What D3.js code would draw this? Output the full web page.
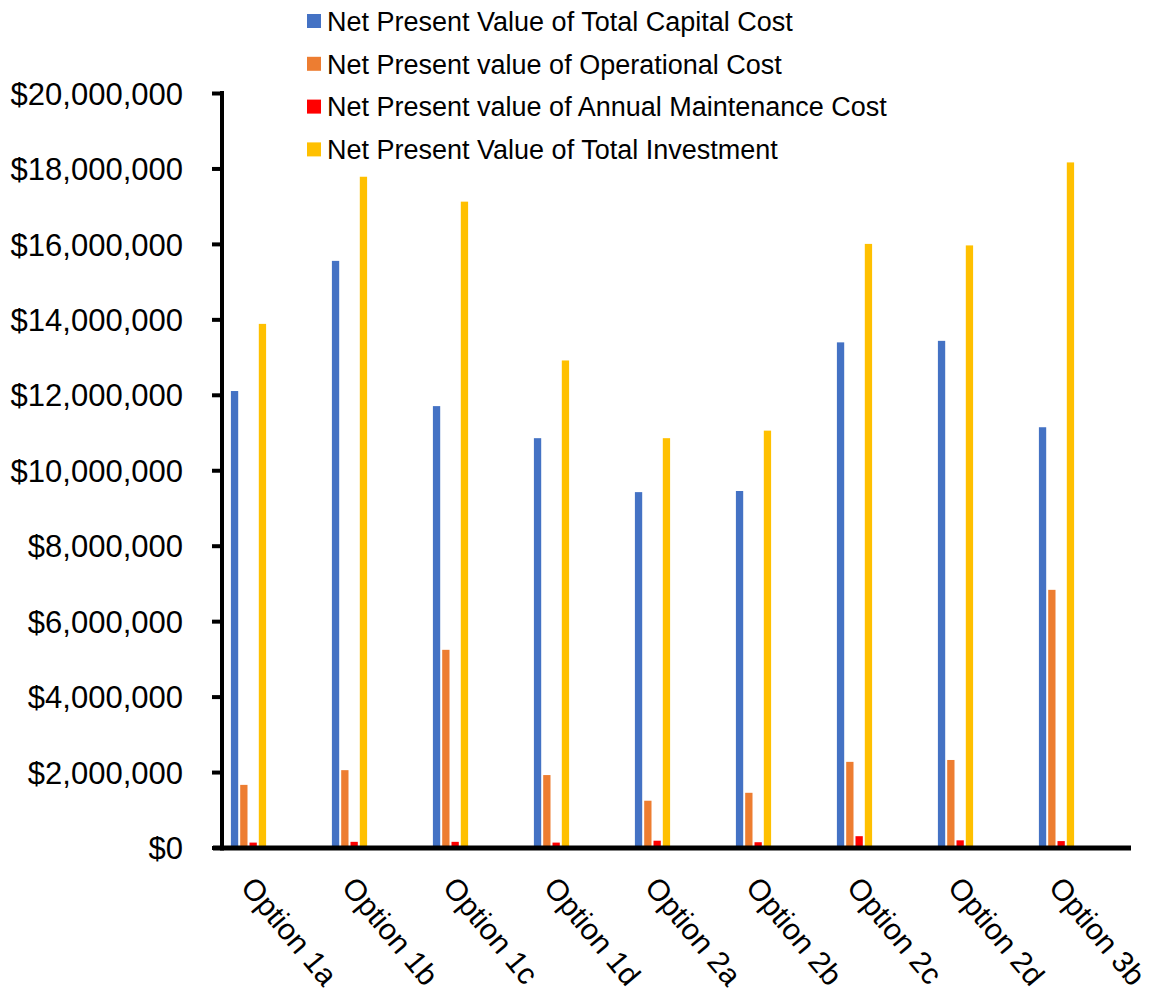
<!DOCTYPE html>
<html>
<head>
<meta charset="utf-8">
<script src="https://cdn.jsdelivr.net/npm/d3@7"></script>
<style>
  html, body { margin: 0; padding: 0; background: #fff; }
  svg { display: block; font-family: "Liberation Sans", Arial, sans-serif; }
</style>
</head>
<body>
<svg id="chart" width="1151" height="999"></svg>
<script>
const categories = ["Option 1a", "Option 1b", "Option 1c", "Option 1d", "Option 2a", "Option 2b", "Option 2c", "Option 2d", "Option 3b"];
const seriesNames = [
  "Net Present Value of Total Capital Cost",
  "Net Present value of Operational Cost",
  "Net Present value of Annual Maintenance Cost",
  "Net Present Value of Total Investment"
];
const seriesColors = ["#4472C4", "#ED7D31", "#FF0000", "#FFC000"];
const capitalCost     = [12100000, 15550000, 11700000, 10850000, 9420000, 9450000, 13390000, 13430000, 11140000];
const operationalCost = [1660000, 2050000, 5240000, 1920000, 1240000, 1450000, 2270000, 2320000, 6830000];
const maintenanceCost = [130000, 150000, 150000, 130000, 180000, 140000, 300000, 190000, 170000];
const totalInvestment = [13880000, 17780000, 17120000, 12910000, 10850000, 11050000, 16000000, 15960000, 18160000];
const seriesValues = [capitalCost, operationalCost, maintenanceCost, totalInvestment];
const yTicks = [0, 2000000, 4000000, 6000000, 8000000, 10000000, 12000000, 14000000, 16000000, 18000000, 20000000];

const svg = d3.select("#chart");

const y = d3.scaleLinear().domain([0, 20000000]).range([847.5, 93]);
const x0 = d3.scaleBand().domain(categories).range([198, 1107]);
const bw = x0.bandwidth();
const x1 = d3.scaleBand().domain(seriesNames).range([bw / 2 - 17.6, bw / 2 + 17.6]).paddingInner(0.215);

// bars
const groups = svg.append("g").selectAll("g")
  .data(categories)
  .join("g")
  .attr("transform", d => `translate(${x0(d)},0)`);

groups.selectAll("rect")
  .data((c, i) => seriesNames.map((s, k) => ({ s, k, v: seriesValues[k][i] })))
  .join("rect")
  .attr("x", d => x1(d.s))
  .attr("width", x1.bandwidth())
  .attr("y", d => y(d.v))
  .attr("height", d => y(0) - y(d.v))
  .attr("fill", d => seriesColors[d.k]);

// y axis
const yAxis = d3.axisLeft(y)
  .tickValues(yTicks)
  .tickSize(10)
  .tickPadding(29)
  .tickFormat(d => "$" + d3.format(",")(d));

const gy = svg.append("g")
  .attr("transform", "translate(222,0)")
  .call(yAxis);
gy.select(".domain").attr("stroke", "#000").attr("stroke-width", 4)
  .attr("d", `M0,${y(20000000) - 2}V${y(0) + 3}`);
gy.selectAll(".tick line").attr("stroke", "#000").attr("stroke-width", 4);
gy.selectAll(".tick text")
  .attr("fill", "#000")
  .style("font-size", "31px")
  .attr("dy", "0.36em");

// x axis
const xAxis = d3.axisBottom(x0).tickSize(0).tickFormat("");
const gx = svg.append("g")
  .attr("transform", `translate(0,${y(0)})`)
  .call(xAxis);
gx.select(".domain").attr("stroke", "#000").attr("stroke-width", 5)
  .attr("d", "M213,0.5H1131");

// category labels
svg.append("g").selectAll("text")
  .data(categories)
  .join("text")
  .attr("transform", d => `translate(${x0(d) + bw / 2 - 9},888) rotate(50)`)
  .attr("text-anchor", "start")
  .style("font-size", "30px")
  .attr("fill", "#000")
  .text(d => d);

// legend
const legend = svg.append("g").selectAll("g")
  .data(seriesNames)
  .join("g")
  .attr("transform", (d, i) => `translate(307,${21 + i * 42.8})`);
legend.append("rect")
  .attr("x", 0).attr("y", -7)
  .attr("width", 14).attr("height", 14)
  .attr("fill", (d, i) => seriesColors[i]);
legend.append("text")
  .attr("x", 20).attr("y", 0)
  .attr("dy", "0.36em")
  .style("font-size", "27px")
  .attr("fill", "#000")
  .text(d => d);
</script>
</body>
</html>
